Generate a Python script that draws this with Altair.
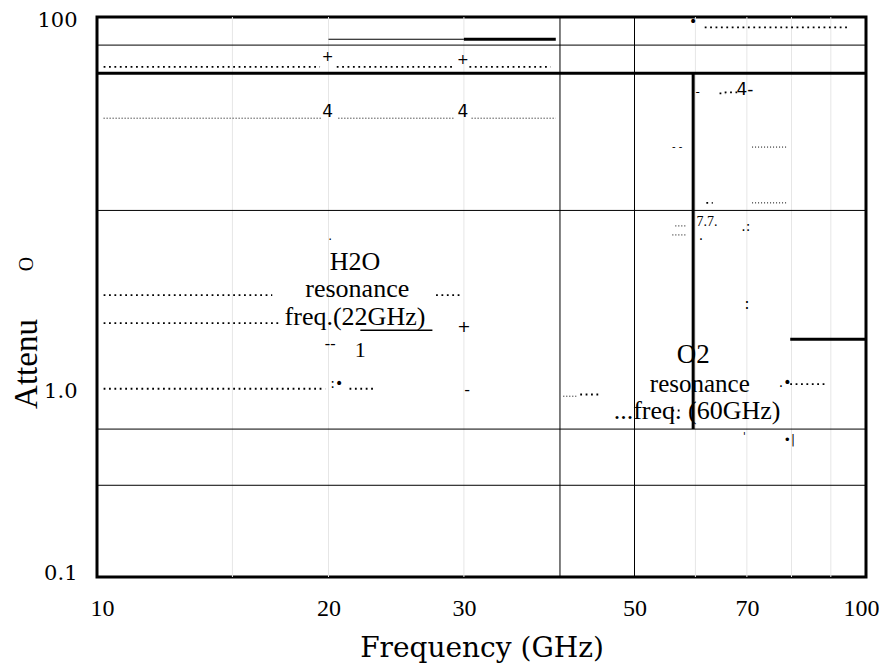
import altair as alt
import pandas as pd

# ---- data ----
x_ticks = [10, 20, 30, 50, 70, 100]
y_ticks = [0.1, 1, 100]

# horizontal grid lines (value, width)
hgrid_y = [70.7, 50, 9.2, 0.62, 0.31]
hgrid_w = [1, 3, 1, 1, 1]

# vertical grid lines full height
vgrid_x = [40, 50]
# faint grid lines
faint_x = [15, 20, 30, 60, 70, 80, 90]

# solid segments: x1, x2, y1, y2, width
seg_x1 = [20, 30, 79.7, 59.6, 22.0]
seg_x2 = [30, 39.5, 100, 59.6, 27.3]
seg_y1 = [76, 76, 1.88, 50, 2.10]
seg_y2 = [76, 76, 1.88, 0.62, 2.10]
seg_w = [1.2, 3, 3, 3, 1.5]

# dotted segments: x1, x2, y, dash style (0 coarse, 1 fine)
dot_x1 = [10.2, 20.5, 30.5, 10.2, 20.6, 30.7, 61.7, 10.2, 27.6, 10.2, 10.2, 21.3, 40.4, 42.5, 79.7, 56.0, 71.1, 71.1, 62.0, 64.5, 56.5, 56.0, 65.5]
dot_x2 = [19.5, 29.2, 38.9, 19.6, 29.2, 39.5, 95.3, 16.9, 29.8, 17.3, 19.8, 23.0, 42.0, 45.0, 88.4, 57.6, 78.9, 78.9, 63.2, 65.6, 58.5, 58.3, 68.0]
dot_y = [54, 54, 54, 28.7, 28.7, 28.7, 88, 3.24, 3.24, 2.29, 1.02, 1.02, 0.93, 0.95, 1.08, 0.78, 20.1, 10.1, 10.1, 39, 7.6, 6.8, 39.5]
dot_s = [0, 0, 0, 1, 1, 1, 0, 0, 0, 0, 0, 0, 1, 0, 0, 0, 1, 1, 0, 0, 1, 1, 0]

# text labels inside the plot
txt_x = [21.65, 21.8, 21.65, 20.1, 22.0, 30.0, 30.3, 20.5, 20.1, 19.95, 29.9, 19.95, 29.9,
         59.6, 60.8, 60.3, 62.1, 59.6, 69.6, 60.4, 69.8, 70.0, 69.5, 79.5, 61.0, 78.5, 56.8]
txt_y = [4.87, 3.49, 2.47, 1.77, 1.64, 2.18, 1.0, 1.08, 6.4, 61, 59, 31, 31,
         1.55, 1.08, 0.774, 7.97, 94, 40.6, 39.6, 7.5, 2.9, 0.56, 0.54, 6.7, 1.1, 20.1]
txt_t = ["H2O", "resonance", "freq.(22GHz)", "--", "1", "+", "-", ":•", "·", "+", "+", "4", "4",
         "O2", "resonance", "...freq. (60GHz)", "7.7.", "•", "4-", "-", ".:", ":", "'", "•|", ".", ".•", "- -"]
txt_s = [26, 26, 26, 16, 22, 16, 16, 14, 12, 14, 14, 17, 17,
         27, 25, 26, 14, 14, 17, 12, 14, 16, 10, 12, 14, 14, 10]
txt_f = ["Liberation Serif"] * 5 + ["DejaVu Sans"] * 8 + ["Liberation Serif"] * 4 + ["DejaVu Sans"] * 10

xs = alt.Scale(type="log", domain=[10, 100], nice=False)
ys = alt.Scale(type="log", domain=[0.1, 100], nice=False)

xaxis = alt.Axis(
    values=x_ticks, ticks=False, grid=False, domain=False, labelFont="Liberation Serif",
    labelFontSize=24, labelColor="black", labelPadding=19, labelFlush=False,
    labelOffset={"condition": [{"test": "datum.value <= 10", "value": 5},
                               {"test": "datum.value >= 100", "value": -5}], "value": 0},
    title="Frequency (GHz)",
    titleFont="DejaVu Serif", titleFontSize=28, titleFontWeight="normal",
    titleColor="black", titlePadding=14, format="d")
yaxis = alt.Axis(
    values=y_ticks, ticks=False, grid=False, domain=False, labelFont="DejaVu Serif",
    labelFontSize=21, labelColor="black", labelPadding=20, labelFlush=False, title=None,
    labelOffset={"condition": [{"test": "datum.value <= 0.1", "value": -4},
                               {"test": "datum.value >= 100", "value": 3}], "value": 1},
    labelExpr="datum.value < 0.5 ? '0.1' : (datum.value < 5 ? '1.0' : '100')")


def X(field="x"):
    return alt.X(f"{field}:Q", scale=xs, axis=xaxis)


def Y(field="y"):
    return alt.Y(f"{field}:Q", scale=ys, axis=yaxis)


base_df = pd.DataFrame({"x": [10, 100], "y": [0.1, 100]})
base = alt.Chart(base_df).mark_point(opacity=0).encode(x=X(), y=Y())

faint = alt.Chart(pd.DataFrame({"x": faint_x})).mark_rule(color="#e6e6e6", strokeWidth=1).encode(x=X())

hgrid = alt.Chart(pd.DataFrame({"y": hgrid_y, "w": hgrid_w})).mark_rule(color="black").encode(
    y=Y(), strokeWidth=alt.StrokeWidth("w:Q", scale=None, legend=None))

vgrid = alt.Chart(pd.DataFrame({"x": vgrid_x})).mark_rule(color="black", strokeWidth=1).encode(x=X())

segs = alt.Chart(pd.DataFrame({"x": seg_x1, "x2": seg_x2, "y": seg_y1, "y2": seg_y2, "w": seg_w})).mark_rule(
    color="black").encode(
    x=X(), x2="x2:Q", y=Y(), y2="y2:Q",
    strokeWidth=alt.StrokeWidth("w:Q", scale=None, legend=None))

ddf = pd.DataFrame({"x": dot_x1, "x2": dot_x2, "y": dot_y, "s": dot_s})
dots_coarse = alt.Chart(ddf[ddf.s == 0]).mark_rule(color="black", strokeWidth=1.8, strokeDash=[1.8, 3.6]).encode(
    x=X(), x2="x2:Q", y=Y())
dots_fine = alt.Chart(ddf[ddf.s == 1]).mark_rule(color="black", strokeWidth=1, strokeDash=[1, 2]).encode(
    x=X(), x2="x2:Q", y=Y())

tdf = pd.DataFrame({"x": txt_x, "y": txt_y, "t": txt_t, "s": txt_s, "f": txt_f})
texts = []
for fnt in ["Liberation Serif", "DejaVu Sans"]:
    sub = tdf[tdf.f == fnt]
    texts.append(alt.Chart(sub).mark_text(font=fnt, color="black", baseline="middle", align="center").encode(
        x=X(), y=Y(), text="t:N", size=alt.Size("s:Q", scale=None, legend=None)))

# outside texts: y-axis pieces
side = alt.Chart(pd.DataFrame({"t": ["Attenu"]})).mark_text(
    font="Liberation Serif", fontSize=33, angle=270, color="black", baseline="middle").encode(
    text="t:N", x=alt.value(-70), y=alt.value(347))
side_o = alt.Chart(pd.DataFrame({"t": ["O"]})).mark_text(
    font="Liberation Serif", fontSize=20, angle=270, color="black", baseline="middle").encode(
    text="t:N", x=alt.value(-70), y=alt.value(247))

chart = alt.layer(base, faint, hgrid, vgrid, segs, dots_coarse, dots_fine, *texts, side, side_o).properties(
    width=769, height=560,
    autosize=alt.AutoSizeParams(type="none"),
    padding={"left": 89, "top": 9, "right": 13, "bottom": 92},
    background="white",
).configure_view(stroke="black", strokeWidth=3)

chart.save("out.html", embed_options={"renderer": "svg", "actions": False})
